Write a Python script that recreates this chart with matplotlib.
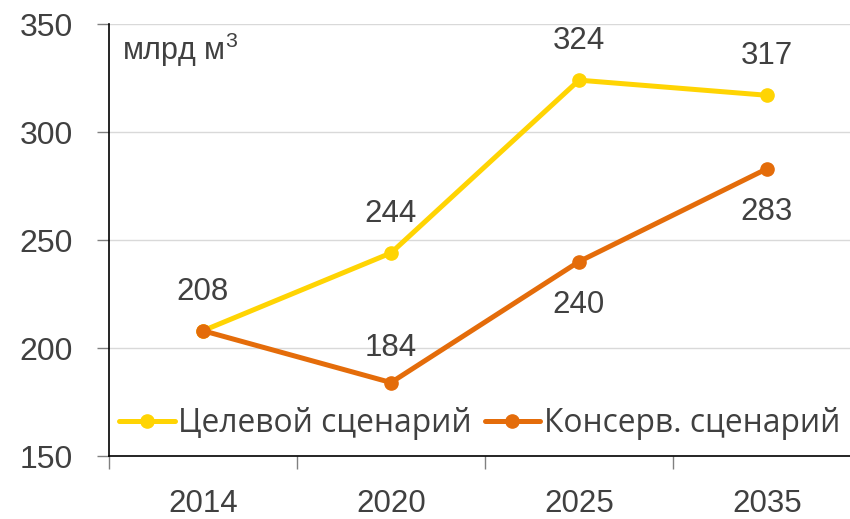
import matplotlib.pyplot as plt
from matplotlib.transforms import blended_transform_factory

years = ['2014', '2020', '2025', '2035']
target = [208, 244, 324, 317]
conservative = [208, 184, 240, 283]
target_label = 'Целевой сценарий'
cons_label = 'Консерв. сценарий'
unit = 'млрд м$^3$'

YELLOW = '#FFD403'
ORANGE = '#E46C0A'
TEXT = '#404040'
num_font = ['Liberation Sans', 'DejaVu Sans']

plt.rcParams['mathtext.fontset'] = 'custom'
plt.rcParams['mathtext.rm'] = 'Liberation Sans'
plt.rcParams['mathtext.it'] = 'Liberation Sans'
plt.rcParams['mathtext.default'] = 'regular'

fig = plt.figure(figsize=(8.5, 5.19), dpi=100)
ax = fig.add_axes([109 / 850, 1 - 456 / 519, 752 / 850, 432 / 519])

x = list(range(len(years)))
ax.plot(x, target, color=YELLOW, lw=3.6, marker='o', ms=9.5, label=target_label,
        solid_capstyle='round', zorder=3)
ax.plot(x, conservative, color=ORANGE, lw=3.6, marker='o', ms=9.5, label=cons_label,
        solid_capstyle='round', zorder=4)

# data labels: target above; conservative above for 2020, below for 2025/2035
for i, v in enumerate(target):
    ax.annotate(str(v), (i, v), xytext=(0, 28), textcoords='offset points',
                ha='center', va='center', fontsize=22.5, color=TEXT, family=num_font)
for i, v in enumerate(conservative):
    if i == 0:
        continue
    dy = 25 if i == 1 else -31
    ax.annotate(str(v), (i, v), xytext=(0, dy), textcoords='offset points',
                ha='center', va='center', fontsize=22.5, color=TEXT, family=num_font)

ax.set_xlim(-0.5, 3.5)
ax.set_ylim(150, 350)
ax.set_yticks([150, 200, 250, 300, 350])
ax.set_xticks(x)
ax.set_xticklabels(years)
ax.set_xticks([-0.5, 0.5, 1.5, 2.5, 3.5], minor=True)
ax.tick_params(axis='x', which='major', length=0, pad=24, labelsize=22.5, labelcolor=TEXT)
ax.tick_params(axis='x', which='minor', length=9, width=1, color='#808080', direction='out')
ax.tick_params(axis='y', length=9, width=1, color='#808080', pad=17, labelsize=23,
               labelcolor=TEXT)
for lab in ax.get_xticklabels() + ax.get_yticklabels():
    lab.set_family(num_font)

ax.grid(axis='y', color='#d9d9d9', lw=1)
ax.set_axisbelow(True)
for s in ['top', 'right']:
    ax.spines[s].set_visible(False)
for s in ['left', 'bottom']:
    ax.spines[s].set_color('black')
    ax.spines[s].set_linewidth(1.2)

ax.text(122 / 850, 338, unit, transform=blended_transform_factory(fig.transFigure, ax.transData),
        fontsize=22, color=TEXT, family=num_font, va='center', ha='left')

leg = ax.legend(loc='center left', bbox_to_anchor=(119 / 850, 1 - 424 / 519),
                bbox_transform=fig.transFigure, ncol=2, frameon=False,
                prop={'family': ['Open Sans', 'DejaVu Sans'], 'size': 22.85},
                handlelength=1.75, handletextpad=0.12, columnspacing=0.4,
                borderaxespad=0, borderpad=0)
for t in leg.get_texts():
    t.set_color(TEXT)

fig.savefig('out.png', dpi=100)
